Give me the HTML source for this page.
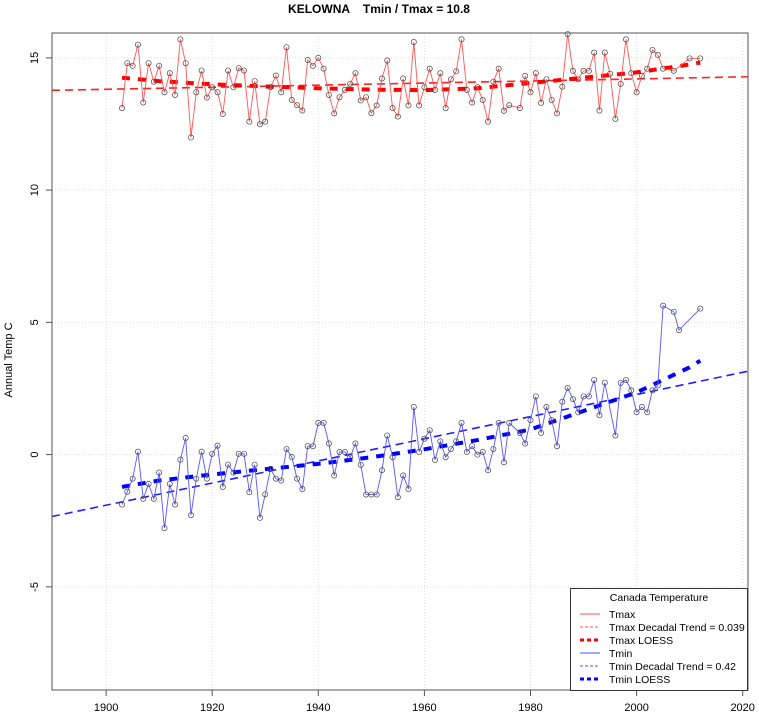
<!DOCTYPE html>
<html><head><meta charset="utf-8"><style>
body{margin:0;background:#fff;}
svg{display:block;font-family:"Liberation Sans",Arial,sans-serif;}
</style></head><body>
<svg id="chart" width="759" height="717" viewBox="0 0 759 717" xmlns="http://www.w3.org/2000/svg">
<text x="379" y="13" text-anchor="middle" font-size="12" font-weight="bold" xml:space="preserve">KELOWNA    Tmin / Tmax = 10.8</text>
<text x="12" y="360" text-anchor="middle" font-size="11" transform="rotate(-90 12 360)">Annual Temp C</text>
<g id="grid"></g>
<g id="axes"></g>
<g id="series"></g>
<rect x="52" y="33" width="696" height="657" fill="none" stroke="#555" stroke-width="1"/>
<g>
<rect x="570.5" y="588.5" width="177" height="102" fill="#fff" stroke="#333" stroke-width="1"/>
<text x="659" y="601" text-anchor="middle" font-size="10.5">Canada Temperature</text>
<g><line x1="580" y1="614" x2="600" y2="614" stroke="#ff5050" stroke-width="1"/><text x="609" y="618" font-size="10.5">Tmax</text></g>
<g><line x1="580" y1="627" x2="600" y2="627" stroke="#ff5050" stroke-width="1" stroke-dasharray="3,2"/><text x="609" y="631" font-size="10.5">Tmax Decadal Trend = 0.039</text></g>
<g><line x1="580" y1="640" x2="600" y2="640" stroke="#ff0000" stroke-width="3" stroke-dasharray="4,3"/><text x="609" y="644" font-size="10.5">Tmax LOESS</text></g>
<g><line x1="580" y1="653" x2="600" y2="653" stroke="#5050ff" stroke-width="1"/><text x="609" y="657" font-size="10.5">Tmin</text></g>
<g><line x1="580" y1="666" x2="600" y2="666" stroke="#5050ff" stroke-width="1" stroke-dasharray="3,2"/><text x="609" y="670" font-size="10.5">Tmin Decadal Trend = 0.42</text></g>
<g><line x1="580" y1="679" x2="600" y2="679" stroke="#0000ff" stroke-width="3" stroke-dasharray="4,3"/><text x="609" y="683" font-size="10.5">Tmin LOESS</text></g>
</g>
</svg>
<script>
const startYear = 1903;
const tmax = [13.10,14.80,14.70,15.50,13.31,14.80,14.10,14.70,13.70,14.42,13.60,15.70,14.80,11.99,13.70,14.52,13.50,13.89,13.70,12.88,14.52,13.89,14.61,14.52,12.59,14.12,12.49,12.59,13.89,14.33,13.70,15.40,13.41,13.21,13.01,14.92,14.70,15.00,14.59,13.60,12.90,13.51,13.79,14.02,14.42,13.39,13.51,12.91,13.20,14.22,14.90,13.10,12.78,14.22,13.20,15.60,13.20,13.89,14.59,13.79,14.42,13.10,14.19,14.49,15.70,13.79,13.31,13.89,13.41,12.59,14.10,14.59,13.00,13.21,null,13.10,14.32,13.70,14.42,13.30,14.19,13.41,12.90,13.91,15.90,14.51,14.19,14.51,14.51,15.20,13.01,15.20,14.40,12.69,14.02,15.70,14.42,13.70,14.32,14.59,15.30,15.11,14.59,null,14.51,null,null,14.98,null,14.98];
const tmin = [-1.89,-1.40,-0.91,0.11,-1.67,-1.11,-1.67,-0.68,-2.78,-1.11,-1.89,-0.19,0.63,-2.29,-0.91,0.11,-0.91,0.03,0.34,-1.22,-0.38,-0.68,0.03,0.03,-1.42,-0.38,-2.39,-1.50,-0.54,-0.91,-0.98,0.21,-0.09,-0.91,-1.30,0.32,0.32,1.20,1.20,0.42,-0.79,0.10,0.10,-0.10,0.42,-0.39,-1.51,-1.51,-1.51,-0.59,0.72,-0.10,-1.61,-0.79,-1.30,1.80,0.10,0.60,0.92,-0.20,0.50,-0.10,0.21,0.50,1.20,0.10,0.32,0.00,0.10,-0.59,0.21,1.20,-0.29,1.20,null,0.82,0.42,1.30,2.20,0.82,1.80,1.30,0.32,2.00,2.52,2.10,1.60,2.20,2.20,2.82,1.49,2.72,null,0.72,2.71,2.82,2.43,1.60,1.80,1.60,2.43,2.61,5.63,null,5.40,4.71,null,null,null,5.52];
const loessYears = [1903,1910,1920,1930,1940,1950,1960,1970,1980,1990,2000,2010,2012];
const tmaxLoess = [14.25,14.12,14.00,13.92,13.85,13.80,13.78,13.85,14.05,14.25,14.45,14.75,14.82];
const tminLoess = [-1.22,-0.98,-0.75,-0.55,-0.35,-0.10,0.20,0.55,0.95,1.65,2.35,3.30,3.55];
const xTicks = [1900,1920,1940,1960,1980,2000,2020];
const yTicks = [-5,0,5,10,15];

const X0=52, X1=748, Y0=33, Y1=690, YRMIN=1889.8, YRMAX=2021.0, VMIN=-8.9, VMAX=15.94;
function xs(y){return X0+(y-YRMIN)/(YRMAX-YRMIN)*(X1-X0);}
function ys(v){return Y1-(v-VMIN)/(VMAX-VMIN)*(Y1-Y0);}
const NS="http://www.w3.org/2000/svg";
function mk(tag,attrs,parent){const e=document.createElementNS(NS,tag);for(const k in attrs)e.setAttribute(k,attrs[k]);parent.appendChild(e);return e;}
const grid=document.getElementById('grid'),axes=document.getElementById('axes'),series=document.getElementById('series');

xTicks.forEach(t=>{
  const gl=mk('line',{x1:xs(t),x2:xs(t),y1:Y0,y2:Y1,stroke:'#ddd','stroke-dasharray':'1,2'},grid);
  
  
  const tk=mk('line',{x1:xs(t),x2:xs(t),y1:Y1,y2:Y1+6,stroke:'#555'},axes);
  
  
  const tx=mk('text',{x:xs(t),y:Y1+21,'text-anchor':'middle','font-size':'11'},axes);
  tx.textContent=t;
  
  
});
yTicks.forEach(t=>{
  const gl=mk('line',{x1:X0,x2:X1,y1:ys(t),y2:ys(t),stroke:'#ddd','stroke-dasharray':'1,2'},grid);
  
  
  const tk=mk('line',{x1:X0-6,x2:X0,y1:ys(t),y2:ys(t),stroke:'#555'},axes);
  
  
  const tx=mk('text',{x:38,y:ys(t),'text-anchor':'middle','font-size':'11',transform:'rotate(-90 38 '+ys(t)+')'},axes);
  tx.textContent=t;
  
  
});

function fit(arr){let n=0,sx=0,sy=0,sxx=0,sxy=0;arr.forEach((v,i)=>{if(v===null)return;const x=startYear+i;n++;sx+=x;sy+=v;sxx+=x*x;sxy+=x*v;});const b=(n*sxy-sx*sy)/(n*sxx-sx*sx);return {a:(sy-b*sx)/n,b:b};}

function drawSeries(arr,color,trendColor,loess,loessColor,name){
  const f=fit(arr);
  const tr=mk('line',{x1:X0,y1:ys(f.a+f.b*YRMIN),x2:X1,y2:ys(f.a+f.b*YRMAX),stroke:trendColor,'stroke-width':'1.6','stroke-dasharray':'8,5'},series);
  
  
  const lp=loessYears.map((y,i)=>xs(y)+','+ys(loess[i])).join(' ');
  const lo=mk('polyline',{points:lp,fill:'none',stroke:loessColor,'stroke-width':'4','stroke-dasharray':'8,8'},series);
  
  
  let pts=[];
  arr.forEach((v,i)=>{if(v!==null)pts.push(xs(startYear+i)+','+ys(v));});
  const pl=mk('polyline',{points:pts.join(' '),fill:'none',stroke:color,'stroke-width':'0.9'},series);
  
  
  arr.forEach((v,i)=>{if(v===null)return;
    const c=mk('circle',{cx:xs(startYear+i),cy:ys(v),r:'2.6',fill:'none',stroke:'#444','stroke-width':'0.7'},series);
    
    
  });
}
drawSeries(tmax,'#ff5555','#ff2020',tmaxLoess,'#ff0000','tmax');
drawSeries(tmin,'#5555ff','#2020ff',tminLoess,'#0000ff','tmin');
</script>
</body></html>
